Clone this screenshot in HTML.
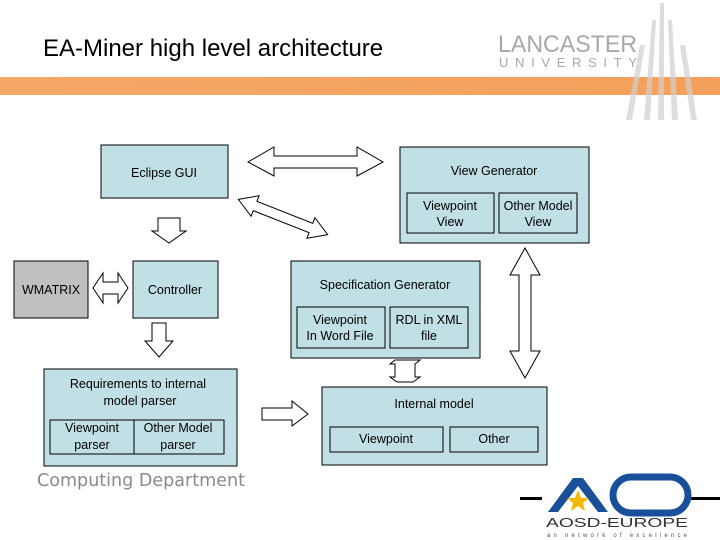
<!DOCTYPE html>
<html><head><meta charset="utf-8"><style>
body{margin:0;width:720px;height:540px;overflow:hidden;background:#fff}
svg{display:block}
text{font-family:"Liberation Sans",sans-serif;fill:#000}
</style></head><body>
<svg width="720" height="540" viewBox="0 0 720 540">
<defs><linearGradient id="og" x1="0" x2="1"><stop offset="0" stop-color="#f6a867"/><stop offset="1" stop-color="#f4a05a"/></linearGradient></defs>
<rect x="0" y="77" width="720" height="18" fill="url(#og)"/>
<g fill="#d0d0d0" opacity="0.7">
<path d="M660 3 L664 3 L664 120 L658 120Z"/>
<path d="M652 20 L656 20 L650 120 L644 120Z"/>
<path d="M668 20 L672 20 L678 120 L672 120Z"/>
<path d="M640 45 L645 45 L632 120 L626 120Z"/>
<path d="M680 45 L685 45 L697 120 L691 120Z"/>
</g>
<text x="43" y="56" font-size="24">EA-Miner high level architecture</text>
<text x="498" y="52" font-size="24" textLength="139" lengthAdjust="spacingAndGlyphs" style="fill:#a8a8a8">LANCASTER</text>
<text x="499" y="67" font-size="13" textLength="138" lengthAdjust="spacing" style="fill:#a8a8a8">UNIVERSITY</text>

<g stroke="#000" stroke-width="1" fill="#c0e0e5">
<rect x="101" y="145" width="127" height="53"/>
<rect x="400" y="147" width="189" height="96"/>
<rect x="407" y="193" width="87" height="40"/>
<rect x="499" y="193" width="78" height="40"/>
<rect x="291" y="261" width="189" height="97"/>
<rect x="297" y="307" width="88" height="41"/>
<rect x="390" y="307" width="78" height="41"/>
<rect x="322" y="387" width="225" height="78"/>
<rect x="330" y="427" width="113" height="25"/>
<rect x="450" y="427" width="88" height="25"/>
<rect x="44" y="369" width="193" height="97"/>
<rect x="50" y="420" width="84" height="34"/>
<rect x="134" y="420" width="90" height="34"/>
<rect x="14" y="261" width="74" height="57" fill="#c0c0c0"/>
<rect x="133" y="261" width="85" height="57"/>
</g>

<g stroke="#000" stroke-width="1" fill="#fff">
<path d="M248 162 L274 147 L274 156 L357 156 L357 147 L383 162 L357 176 L357 168 L274 168 L274 176Z"/>
<path d="M-48 0 L-30 -11 L-30 -5 L30 -5 L30 -11 L48 0 L30 11 L30 5 L-30 5 L-30 11Z" transform="translate(283,217) rotate(21.5)"/>
<path d="M158 218 L180 218 L180 231 L186 231 L169 243 L152 231 L158 231Z"/>
<path d="M152 323 L166 323 L166 341 L173 341 L159 357 L145 341 L152 341Z"/>
<path d="M93 288 L103 273 L103 282 L118 282 L118 273 L128 288 L118 303 L118 294 L103 294 L103 303Z"/>
<path d="M262 408 L292 408 L292 401 L308 414 L292 426 L292 420 L262 420Z"/>
<path d="M395 360 L420 360 L415 364 L415 377 L420 377 L413 382 L397 382 L390 377 L395 377 L395 364 L390 364Z"/>
<path d="M525 248 L540 275 L531 275 L531 351 L540 351 L525 378 L510 351 L519 351 L519 275 L510 275Z"/>
</g>

<g font-size="12.5" text-anchor="middle">
<text x="164" y="177">Eclipse GUI</text>
<text x="494" y="175">View Generator</text>
<text x="450" y="210">Viewpoint</text><text x="450" y="226">View</text>
<text x="538" y="210">Other Model</text><text x="538" y="226">View</text>
<text x="385" y="289">Specification Generator</text>
<text x="340" y="324">Viewpoint</text><text x="340" y="340">In Word File</text>
<text x="429" y="324">RDL in XML</text><text x="429" y="340">file</text>
<text x="434" y="408">Internal model</text>
<text x="386" y="443">Viewpoint</text>
<text x="494" y="443">Other</text>
<text x="138" y="388">Requirements to internal</text>
<text x="140" y="405">model parser</text>
<text x="92" y="432">Viewpoint</text><text x="92" y="449">parser</text>
<text x="178" y="432">Other Model</text><text x="178" y="449">parser</text>
<text x="51" y="294">WMATRIX</text>
<text x="175" y="294">Controller</text>
</g>
<text x="37" y="486" font-size="18" textLength="208" lengthAdjust="spacingAndGlyphs" style="fill:#8a8a8a;font-family:'DejaVu Sans',sans-serif">Computing Department</text>

<g>
<rect x="520" y="497" width="22" height="3" fill="#000"/>
<rect x="690" y="497" width="30" height="3" fill="#000"/>
<path d="M548 512 L573 478 L583 478 L608 512 L598 512 L578 486 L558 512Z" fill="#1a4f9a"/>
<rect x="613" y="477" width="75" height="36" rx="18" fill="none" stroke="#1a4f9a" stroke-width="7"/>
<path d="M578 490 L581 498 L589 498 L583 503 L585 511 L578 506 L571 511 L573 503 L567 498 L575 498Z" fill="#f5b800"/>
<text x="546" y="527" font-size="13" textLength="142" lengthAdjust="spacingAndGlyphs" style="fill:#333">AOSD-EUROPE</text>
<text x="547" y="537" font-size="6" textLength="140" lengthAdjust="spacing" style="fill:#555">an network of excellence</text>
</g>
</svg>
</body></html>
